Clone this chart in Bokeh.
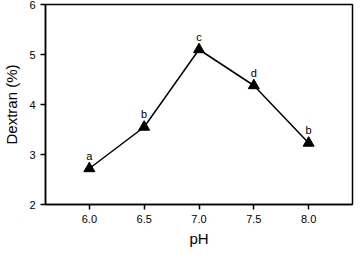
from bokeh.plotting import figure
from bokeh.models import ColumnDataSource, FixedTicker, PrintfTickFormatter, Range1d
from bokeh.core.properties import value
from bokeh.embed import file_html
from bokeh.resources import INLINE

ph = [6.0, 6.5, 7.0, 7.5, 8.0]
dextran = [2.72, 3.55, 5.10, 4.38, 3.23]
letters = ["a", "b", "c", "d", "b"]
x_ticks = [6.0, 6.5, 7.0, 7.5, 8.0]
y_ticks = [2, 3, 4, 5, 6]

src = ColumnDataSource(dict(x=ph, y=dextran, t=letters))

p = figure(frame_width=307, frame_height=200,
           x_range=Range1d(5.6, 8.4), y_range=Range1d(2, 6),
           output_backend="svg", toolbar_location=None,
           min_border_left=38, min_border_right=2, min_border_top=4, min_border_bottom=40)
p.background_fill_color = "white"
p.border_fill_color = "white"
p.xgrid.visible = False
p.ygrid.visible = False
p.outline_line_color = "black"
p.outline_line_width = 1.5

p.line("x", "y", source=src, line_color="black", line_width=1.5)
p.scatter("x", "y", source=src, marker="triangle", size=11, fill_color="black", line_color="black")
p.text("x", "y", text="t", source=src, text_align="center", text_baseline="bottom",
       y_offset=-7, text_font=value("Liberation Sans"), text_font_size="11px", text_color="black")

for ax in (p.xaxis[0], p.yaxis[0]):
    ax.axis_line_color = "black"
    ax.axis_line_width = 1.5
    ax.major_tick_line_color = "black"
    ax.major_tick_line_width = 1.5
    ax.major_tick_out = 5
    ax.major_tick_in = 0
    ax.minor_tick_line_color = None
    ax.major_label_text_font = "Liberation Sans"
    ax.major_label_text_font_size = "11px"
    ax.major_label_text_color = "black"
    ax.axis_label_text_font = "Liberation Sans"
    ax.axis_label_text_font_size = "15px"
    ax.axis_label_text_font_style = "normal"
    ax.axis_label_text_color = "black"

p.xaxis.ticker = FixedTicker(ticks=x_ticks)
p.xaxis.formatter = PrintfTickFormatter(format="%.1f")
p.yaxis.ticker = FixedTicker(ticks=y_ticks)
p.xaxis.axis_label = "pH"
p.yaxis.axis_label = "Dextran (%)"
p.xaxis.major_label_standoff = 5
p.yaxis.major_label_standoff = 5
p.xaxis.axis_label_standoff = 4
p.yaxis.axis_label_standoff = 6

open("out.html", "w").write(file_html(p, INLINE))
